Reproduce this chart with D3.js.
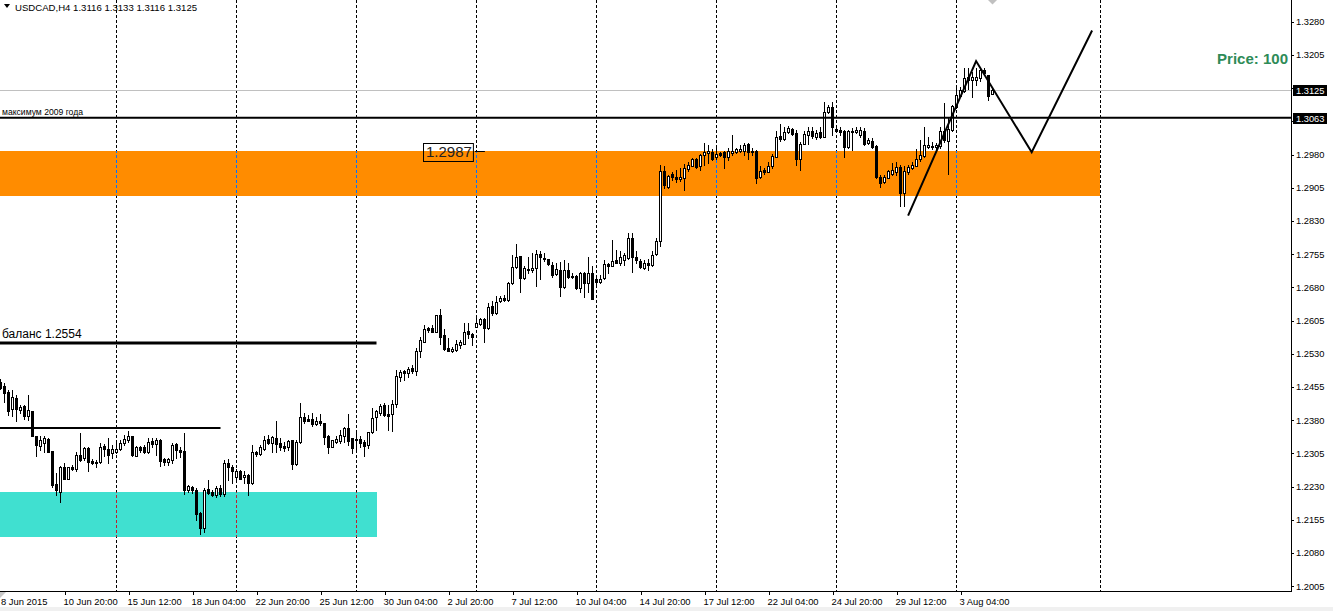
<!DOCTYPE html>
<html><head><meta charset="utf-8">
<script src="https://cdn.jsdelivr.net/npm/d3@7"></script>
<style>
html,body{margin:0;padding:0;background:#fff;}
svg{display:block;}
text{font-family:"Liberation Sans",Arial,sans-serif;}
</style></head><body>
<svg id="c" width="1333" height="611"></svg>
<script>
// ---------- data ----------
const symbolTitle = "USDCAD,H4";
const lastBarOHLC = ["1.3116", "1.3133", "1.3116", "1.3125"];

const opens = [1.2467,1.2456,1.2444,1.2404,1.2429,1.2403,1.2412,1.2389,1.2401,1.2345,
1.2321,1.2329,1.2337,1.2310,1.2236,1.2218,1.2275,1.2248,1.2273,1.2270,
1.2301,1.2294,1.2318,1.2288,1.2286,1.2285,1.2321,1.2315,1.2305,1.2309,
1.2315,1.2328,1.2335,1.2343,1.2300,1.2320,1.2320,1.2309,1.2333,1.2326,
1.2335,1.2291,1.2285,1.2290,1.2326,1.2312,1.2310,1.2221,1.2228,1.2222,
1.2171,1.2137,1.2224,1.2218,1.2211,1.2227,1.2212,1.2282,1.2275,1.2252,
1.2265,1.2251,1.2256,1.2237,1.2309,1.2303,1.2315,1.2337,1.2329,1.2340,
1.2328,1.2321,1.2320,1.2335,1.2281,1.2330,1.2386,1.2382,1.2382,1.2371,
1.2378,1.2373,1.2344,1.2320,1.2331,1.2333,1.2345,1.2363,1.2339,1.2337,
1.2337,1.2330,1.2324,1.2352,1.2386,1.2397,1.2414,1.2394,1.2394,1.2416,
1.2478,1.2491,1.2486,1.2497,1.2492,1.2535,1.2557,1.2587,1.2587,1.2580,
1.2617,1.2572,1.2544,1.2536,1.2538,1.2550,1.2553,1.2581,1.2574,1.2591,
1.2596,1.2608,1.2589,1.2638,1.2621,1.2648,1.2655,1.2651,1.2689,1.2725,
1.2751,1.2700,1.2721,1.2720,1.2723,1.2755,1.2746,1.2743,1.2730,1.2710,
1.2719,1.2681,1.2719,1.2706,1.2706,1.2679,1.2713,1.2689,1.2713,1.2699,
1.2693,1.2700,1.2732,1.2729,1.2742,1.2736,1.2742,1.2747,1.2791,1.2748,
1.2739,1.2723,1.2734,1.2730,1.2755,1.2785,1.2943,1.2907,1.2937,1.2930,
1.2925,1.2928,1.2947,1.2954,1.2970,1.2953,1.2979,1.2984,1.2985,1.2975,
1.2984,1.2986,1.2975,1.2983,1.2986,1.2989,1.2989,1.3003,1.2989,1.2988,
1.2930,1.2945,1.2941,1.2953,1.2975,1.3022,1.3014,1.3030,1.3037,1.3028,
1.2970,1.3003,1.3024,1.3034,1.3019,1.3030,1.3020,1.3075,1.3087,1.3038,
1.3035,1.3033,1.2996,1.3030,1.3030,1.3023,1.3033,1.3005,1.3011,1.3000,
1.2930,1.2917,1.2928,1.2937,1.2941,1.2951,1.2894,1.2941,1.2949,1.2955,
1.2969,1.2977,1.2998,1.3000,1.2998,1.3000,1.3033,1.3011,1.3035,1.3088,
1.3113,1.3123,1.3148,1.3148,1.3148,1.3152,1.3171,1.3160,1.3116];

const highs = [1.2472,1.2463,1.2448,1.2447,1.2437,1.2414,1.2414,1.2437,1.2401,1.2345,
1.2343,1.2343,1.2339,1.2310,1.2260,1.2277,1.2282,1.2275,1.2279,1.2309,
1.2350,1.2320,1.2320,1.2291,1.2290,1.2328,1.2326,1.2340,1.2324,1.2328,
1.2334,1.2346,1.2355,1.2344,1.2321,1.2322,1.2324,1.2339,1.2339,1.2339,
1.2337,1.2294,1.2294,1.2329,1.2328,1.2319,1.2350,1.2233,1.2231,1.2226,
1.2173,1.2226,1.2245,1.2221,1.2230,1.2233,1.2290,1.2291,1.2279,1.2269,
1.2267,1.2264,1.2258,1.2324,1.2311,1.2324,1.2343,1.2346,1.2343,1.2378,
1.2339,1.2331,1.2335,1.2335,1.2335,1.2419,1.2397,1.2392,1.2395,1.2388,
1.2393,1.2373,1.2346,1.2335,1.2343,1.2358,1.2365,1.2393,1.2339,1.2358,
1.2345,1.2336,1.2354,1.2408,1.2403,1.2416,1.2418,1.2414,1.2425,1.2493,
1.2493,1.2493,1.2501,1.2504,1.2544,1.2568,1.2595,1.2591,1.2595,1.2617,
1.2630,1.2585,1.2565,1.2546,1.2561,1.2561,1.2599,1.2599,1.2576,1.2617,
1.2610,1.2610,1.2644,1.2648,1.2661,1.2661,1.2663,1.2693,1.2754,1.2778,
1.2751,1.2727,1.2748,1.2757,1.2764,1.2761,1.2758,1.2745,1.2738,1.2734,
1.2738,1.2742,1.2734,1.2712,1.2708,1.2715,1.2715,1.2749,1.2727,1.2704,
1.2708,1.2742,1.2734,1.2787,1.2764,1.2761,1.2757,1.2802,1.2802,1.2761,
1.2745,1.2742,1.2745,1.2761,1.2791,1.2956,1.2953,1.2934,1.2940,1.2945,
1.2949,1.2958,1.2962,1.2973,1.2971,1.2981,1.3005,1.3002,1.2992,1.2994,
1.2986,1.2988,1.2994,1.3024,1.2994,1.3002,1.3005,1.3005,1.2994,1.2990,
1.2953,1.2949,1.2962,1.2980,1.3032,1.3050,1.3043,1.3044,1.3039,1.3036,
1.3008,1.3032,1.3041,1.3043,1.3035,1.3043,1.3099,1.3092,1.3099,1.3043,
1.3043,1.3035,1.3035,1.3039,1.3043,1.3043,1.3039,1.3017,1.3017,1.3002,
1.2934,1.2934,1.2945,1.2960,1.2964,1.2956,1.2953,1.2956,1.2964,1.2992,
1.3013,1.3043,1.3020,1.3008,1.3005,1.3043,1.3096,1.3062,1.3092,1.3133,
1.3133,1.3176,1.3175,1.3166,1.3175,1.3175,1.3175,1.3160,1.3133];

const lows = [1.2450,1.2422,1.2392,1.2389,1.2379,1.2397,1.2382,1.2380,1.2345,1.2300,
1.2312,1.2309,1.2309,1.2228,1.2211,1.2196,1.2248,1.2248,1.2267,1.2266,
1.2288,1.2290,1.2264,1.2281,1.2273,1.2282,1.2299,1.2282,1.2294,1.2305,
1.2312,1.2324,1.2331,1.2299,1.2299,1.2309,1.2306,1.2306,1.2320,1.2301,
1.2277,1.2279,1.2279,1.2284,1.2294,1.2296,1.2213,1.2218,1.2216,1.2154,
1.2122,1.2128,1.2213,1.2209,1.2207,1.2209,1.2209,1.2245,1.2237,1.2245,
1.2246,1.2237,1.2211,1.2235,1.2300,1.2301,1.2312,1.2326,1.2309,1.2309,
1.2312,1.2311,1.2312,1.2270,1.2279,1.2328,1.2373,1.2377,1.2367,1.2369,
1.2369,1.2326,1.2306,1.2319,1.2329,1.2328,1.2330,1.2324,1.2305,1.2310,
1.2320,1.2299,1.2318,1.2350,1.2358,1.2392,1.2390,1.2358,1.2356,1.2410,
1.2468,1.2471,1.2478,1.2487,1.2482,1.2523,1.2557,1.2578,1.2578,1.2578,
1.2553,1.2538,1.2535,1.2533,1.2536,1.2544,1.2551,1.2565,1.2550,1.2590,
1.2595,1.2557,1.2586,1.2617,1.2619,1.2646,1.2649,1.2648,1.2687,1.2723,
1.2670,1.2699,1.2712,1.2715,1.2684,1.2699,1.2739,1.2730,1.2704,1.2708,
1.2661,1.2679,1.2700,1.2700,1.2676,1.2670,1.2659,1.2670,1.2653,1.2685,
1.2689,1.2699,1.2712,1.2727,1.2734,1.2730,1.2730,1.2745,1.2715,1.2734,
1.2723,1.2721,1.2718,1.2729,1.2753,1.2774,1.2904,1.2905,1.2922,1.2919,
1.2920,1.2900,1.2943,1.2953,1.2950,1.2945,1.2956,1.2960,1.2968,1.2970,
1.2977,1.2950,1.2968,1.2979,1.2983,1.2986,1.2979,1.2970,1.2979,1.2915,
1.2928,1.2935,1.2940,1.2949,1.2974,1.3011,1.3013,1.3028,1.3024,1.2956,
1.2945,1.3003,1.3003,1.3017,1.3015,1.3018,1.3019,1.3073,1.3024,1.3030,
1.3024,1.2975,1.2994,1.2990,1.3028,1.3020,1.3002,1.3003,1.2994,1.2928,
1.2907,1.2915,1.2926,1.2934,1.2934,1.2864,1.2864,1.2937,1.2947,1.2953,
1.2965,1.2975,1.2994,1.2993,1.2990,1.2994,1.3009,1.2937,1.3033,1.3084,
1.3111,1.3122,1.3129,1.3111,1.3137,1.3145,1.3160,1.3103,1.3116];

const closes = [1.2452,1.2442,1.2401,1.2433,1.2404,1.2409,1.2389,1.2403,1.2345,1.2324,
1.2334,1.2340,1.2309,1.2233,1.2221,1.2275,1.2248,1.2273,1.2269,1.2301,
1.2290,1.2318,1.2286,1.2284,1.2282,1.2319,1.2315,1.2301,1.2314,1.2315,
1.2329,1.2337,1.2345,1.2301,1.2320,1.2312,1.2307,1.2331,1.2326,1.2334,
1.2288,1.2286,1.2292,1.2324,1.2312,1.2309,1.2221,1.2230,1.2221,1.2168,
1.2137,1.2222,1.2216,1.2211,1.2227,1.2212,1.2282,1.2273,1.2264,1.2265,
1.2248,1.2256,1.2237,1.2309,1.2303,1.2319,1.2335,1.2329,1.2341,1.2326,
1.2320,1.2318,1.2333,1.2281,1.2331,1.2386,1.2377,1.2378,1.2371,1.2378,
1.2373,1.2341,1.2320,1.2334,1.2337,1.2346,1.2363,1.2333,1.2316,1.2334,
1.2328,1.2322,1.2352,1.2384,1.2401,1.2412,1.2392,1.2390,1.2416,1.2480,
1.2488,1.2486,1.2495,1.2491,1.2536,1.2561,1.2585,1.2584,1.2580,1.2617,
1.2568,1.2541,1.2536,1.2541,1.2552,1.2556,1.2580,1.2575,1.2568,1.2599,
1.2608,1.2587,1.2635,1.2621,1.2646,1.2655,1.2651,1.2689,1.2725,1.2748,
1.2700,1.2724,1.2718,1.2723,1.2755,1.2748,1.2743,1.2732,1.2708,1.2721,
1.2681,1.2718,1.2704,1.2703,1.2678,1.2713,1.2689,1.2713,1.2653,1.2691,
1.2699,1.2732,1.2729,1.2739,1.2736,1.2749,1.2753,1.2791,1.2749,1.2742,
1.2725,1.2734,1.2730,1.2753,1.2785,1.2943,1.2910,1.2932,1.2930,1.2925,
1.2930,1.2949,1.2956,1.2970,1.2951,1.2979,1.2985,1.2987,1.2969,1.2981,
1.2979,1.2975,1.2988,1.2987,1.2992,1.2992,1.3002,1.2986,1.2985,1.2928,
1.2943,1.2941,1.2954,1.2977,1.3020,1.3014,1.3030,1.3039,1.3026,1.2969,
1.3004,1.3027,1.3034,1.3022,1.3028,1.3020,1.3075,1.3087,1.3043,1.3034,
1.3030,1.2996,1.3032,1.3033,1.3035,1.3036,1.3004,1.3013,1.2998,1.2930,
1.2915,1.2929,1.2943,1.2945,1.2951,1.2894,1.2943,1.2951,1.2956,1.2970,
1.2979,1.3002,1.3002,1.2996,1.3002,1.3033,1.3013,1.3038,1.3090,1.3114,
1.3126,1.3152,1.3154,1.3154,1.3154,1.3171,1.3163,1.3113,1.3125];

const priceTicks = [1.3280,1.3205,1.3130,1.3055,1.2980,1.2905,1.2830,1.2755,1.2680,1.2605,
1.2530,1.2455,1.2380,1.2305,1.2230,1.2155,1.2080,1.2005];

const timeTickIdx = [-1,16,32,48,64,80,96,112,128,144,160,176,192,208,224,240];
const timeTickLabels = ["8 Jun 2015","10 Jun 20:00","15 Jun 12:00","18 Jun 04:00","22 Jun 20:00",
"25 Jun 12:00","30 Jun 04:00","2 Jul 20:00","7 Jul 12:00","10 Jul 04:00","14 Jul 20:00",
"17 Jul 12:00","22 Jul 04:00","24 Jul 20:00","29 Jul 12:00","3 Aug 04:00"];

const separatorIdx = [29,59,89,119,149,179,209,239,274.9];

const max2009Price = 1.3063;
const max2009Label = "максимум 2009 года";
const bidPrice = 1.3125;
const balancePrice = 1.2554;
const balanceLabel = "баланс 1.2554";
const balanceEndIdx = 94;
const rangeTopPrice = 1.2362;
const rangeTopEndIdx = 55;
const orangeZone = [1.2987, 1.2886];
const orangeEndIdx = 274.9;
const cyanZone = [1.2218, 1.2116];
const cyanEndIdx = 94;
const priceLabelValue = "1.2987";
const priceLabelIdx = 118.6;
const pathIdx = [226.9, 243.9, 257.8, 272.9];
const pathPrice = [1.2842, 1.3191, 1.2985, 1.3260];
const infoText = "Price: 100";

// ---------- drawing ----------
const W = 1333, H = 611;
const axisX = 1291, axisY = 591;
const svg = d3.select("#c");
const x = d3.scaleLinear().domain([0, 1]).range([0.5, 4.5]);
const y = d3.scaleLinear().domain([1.2005, 1.3280]).range([586.1, 21.7]);
const px = v => Math.round(v - 0.5) + 0.5;
const leftIdx = x.invert(-4);

svg.append("rect").attr("width", W).attr("height", H).attr("fill", "#fff");
svg.append("rect").attr("x", 0).attr("y", 607).attr("width", W).attr("height", 4).attr("fill", "#f0f0f0");

const defs = svg.append("defs");
defs.append("clipPath").attr("id", "plot").append("rect")
  .attr("x", 0).attr("y", 0).attr("width", axisX).attr("height", axisY);

const plot = svg.append("g").attr("clip-path", "url(#plot)");

// zones
function zoneRect(id, zone, endIdx, color) {
  const r = {x: x(leftIdx), y: Math.round(y(zone[0])), w: Math.round(x(endIdx)) - x(leftIdx), h: Math.round(y(zone[1])) - Math.round(y(zone[0]))};
  plot.append("rect").attr("x", r.x).attr("y", r.y).attr("width", r.w).attr("height", r.h).attr("fill", color);
  defs.append("clipPath").attr("id", id).append("rect").attr("x", r.x).attr("y", r.y).attr("width", r.w).attr("height", r.h);
}
zoneRect("orangeClip", orangeZone, orangeEndIdx, "#ff8c00");
zoneRect("cyanClip", cyanZone, cyanEndIdx, "#40e0d0");

// separators (inverted colour over zones)
function seps(g, color) {
  g.selectAll("line").data(separatorIdx).join("line")
    .attr("x1", d => px(x(d))).attr("x2", d => px(x(d)))
    .attr("y1", 0).attr("y2", axisY)
    .attr("stroke", color).attr("stroke-width", 1).attr("stroke-dasharray", "3,2")
    .attr("shape-rendering", "crispEdges");
}
seps(plot.append("g"), "#000");
seps(plot.append("g").attr("clip-path", "url(#orangeClip)"), "#0073ff");
seps(plot.append("g").attr("clip-path", "url(#cyanClip)"), "#bf1f2f");

// bid line
plot.append("line").attr("x1", 0).attr("x2", axisX).attr("y1", px(y(bidPrice))).attr("y2", px(y(bidPrice)))
  .attr("stroke", "#c0c0c0").attr("stroke-width", 1).attr("shape-rendering", "crispEdges");

// candles
const bars = d3.range(opens.length).map(i => ({i, o: opens[i], h: highs[i], l: lows[i], c: closes[i]}));
const cg = plot.append("g").attr("shape-rendering", "crispEdges");
cg.selectAll("line").data(bars).join("line")
  .attr("x1", d => px(x(d.i))).attr("x2", d => px(x(d.i)))
  .attr("y1", d => Math.round(y(d.h))).attr("y2", d => Math.round(y(d.l)) + 1)
  .attr("stroke", "#000").attr("stroke-width", 1);
cg.selectAll("path").data(bars).join("path")
  .attr("d", d => {
    const cx = px(x(d.i));
    const t = Math.round(y(Math.max(d.o, d.c))) + 0.5;
    const b = Math.round(y(Math.min(d.o, d.c))) + 0.5;
    return `M${cx - 1},${t}H${cx + 1}V${b}H${cx - 1}Z`;
  })
  .attr("fill", d => d.c >= d.o ? "#fff" : "#000")
  .attr("stroke", "#000").attr("stroke-width", 1);

// horizontal objects
function hline(price, endX, width) {
  const yy = y(price);
  plot.append("line").attr("x1", 0).attr("x2", endX).attr("y1", yy).attr("y2", yy)
    .attr("stroke", "#000").attr("stroke-width", width);
}
hline(max2009Price, axisX, 2);
hline(balancePrice, x(balanceEndIdx), 3);
hline(rangeTopPrice, x(rangeTopEndIdx), 2);

plot.append("text").attr("x", 2).attr("y", y(max2009Price) - 2.5)
  .attr("font-size", 8.6).attr("fill", "#000").text(max2009Label);
plot.append("text").attr("x", 2).attr("y", y(balancePrice) - 5.5)
  .attr("font-size", 12).attr("fill", "#000").text(balanceLabel);

// zigzag path
const line = d3.line().x(d => x(d[0])).y(d => y(d[1]));
plot.append("path").attr("d", line(pathIdx.map((d, i) => [d, pathPrice[i]])))
  .attr("fill", "none").attr("stroke", "#000").attr("stroke-width", 2).attr("stroke-linejoin", "miter");

// price label box
{
  const yy = y(+priceLabelValue);
  const xr = x(priceLabelIdx);
  const g = plot.append("g");
  const t = g.append("text").attr("x", xr - 3).attr("y", yy + 6).attr("text-anchor", "end")
    .attr("font-family", "DejaVu Sans").attr("font-size", 15).attr("fill", "#222").text(priceLabelValue);
  const bb = t.node().getBBox();
  g.insert("rect", "text").attr("x", bb.x - 2.5).attr("y", Math.round(yy) - 7.5)
    .attr("width", bb.width + 4).attr("height", 18).attr("fill", "none").attr("stroke", "#000");
  g.append("line").attr("x1", xr).attr("x2", xr + 10).attr("y1", Math.round(yy) + 0.5).attr("y2", Math.round(yy) + 0.5)
    .attr("stroke", "#000").attr("stroke-width", 1);
}

// info text
svg.append("text").attr("x", 1288).attr("y", 63.5).attr("text-anchor", "end")
  .attr("font-size", 15).attr("font-weight", "bold").attr("fill", "#2e8b57").text(infoText);

// title
svg.append("path").attr("d", "M4,4H10L7,8Z").attr("fill", "#000");
svg.append("text").attr("x", 15).attr("y", 10.5).attr("font-size", 9.6).attr("fill", "#000")
  .text(symbolTitle + "  " + lastBarOHLC.join(" "));

// chart shift marker
svg.append("path").attr("d", "M988,0H997L992.5,4.5Z").attr("fill", "#c0c0c0");

// right price axis (labels hidden where a price box sits on top of them)
const boxPrices = [bidPrice, max2009Price];
const ya = svg.append("g").attr("transform", `translate(${axisX},0)`)
  .call(d3.axisRight(y).tickValues(priceTicks).tickSize(3).tickPadding(2).tickFormat(d3.format(".4f")));
ya.select(".domain").remove();
ya.selectAll("text").attr("font-size", 9.3).attr("font-family", "Liberation Sans, Arial, sans-serif").attr("fill", "#000")
  .attr("display", d => boxPrices.some(b => Math.abs(y(b) - y(d)) < 10) ? "none" : null);
ya.selectAll("line").attr("stroke", "#000").attr("shape-rendering", "crispEdges");
svg.append("line").attr("x1", axisX + 0.5).attr("x2", axisX + 0.5).attr("y1", 0).attr("y2", axisY + 1)
  .attr("stroke", "#000").attr("shape-rendering", "crispEdges");

// current price boxes
function priceBox(price, txt) {
  const yy = Math.round(y(price));
  svg.append("rect").attr("x", axisX + 2).attr("y", yy - 5).attr("width", 34).attr("height", 11).attr("fill", "#000");
  svg.append("text").attr("x", axisX + 5).attr("y", yy + 3.5).attr("font-size", 9.3).attr("fill", "#fff").text(txt);
}
priceBox(bidPrice, bidPrice.toFixed(4));
priceBox(max2009Price, max2009Price.toFixed(4));

// bottom time axis (first label kept inside the picture)
const xa = svg.append("g").attr("transform", `translate(0,${axisY})`)
  .call(d3.axisBottom(x).tickValues(timeTickIdx).tickSize(4).tickPadding(3).tickFormat((d, i) => timeTickLabels[i]));
xa.select(".domain").remove();
xa.selectAll("text").attr("text-anchor", "start")
  .attr("dx", d => Math.max(-1.5, 0.5 - x(d)))
  .attr("font-size", 9.4).attr("font-family", "Liberation Sans, Arial, sans-serif").attr("fill", "#000");
xa.selectAll("line").attr("stroke", "#000").attr("shape-rendering", "crispEdges");
svg.append("line").attr("x1", 0).attr("x2", axisX + 1).attr("y1", axisY + 0.5).attr("y2", axisY + 0.5)
  .attr("stroke", "#000").attr("shape-rendering", "crispEdges");
svg.append("path").attr("d", "M0,592H6L0,598Z").attr("fill", "#c8c8c8");
</script>
</body></html>
